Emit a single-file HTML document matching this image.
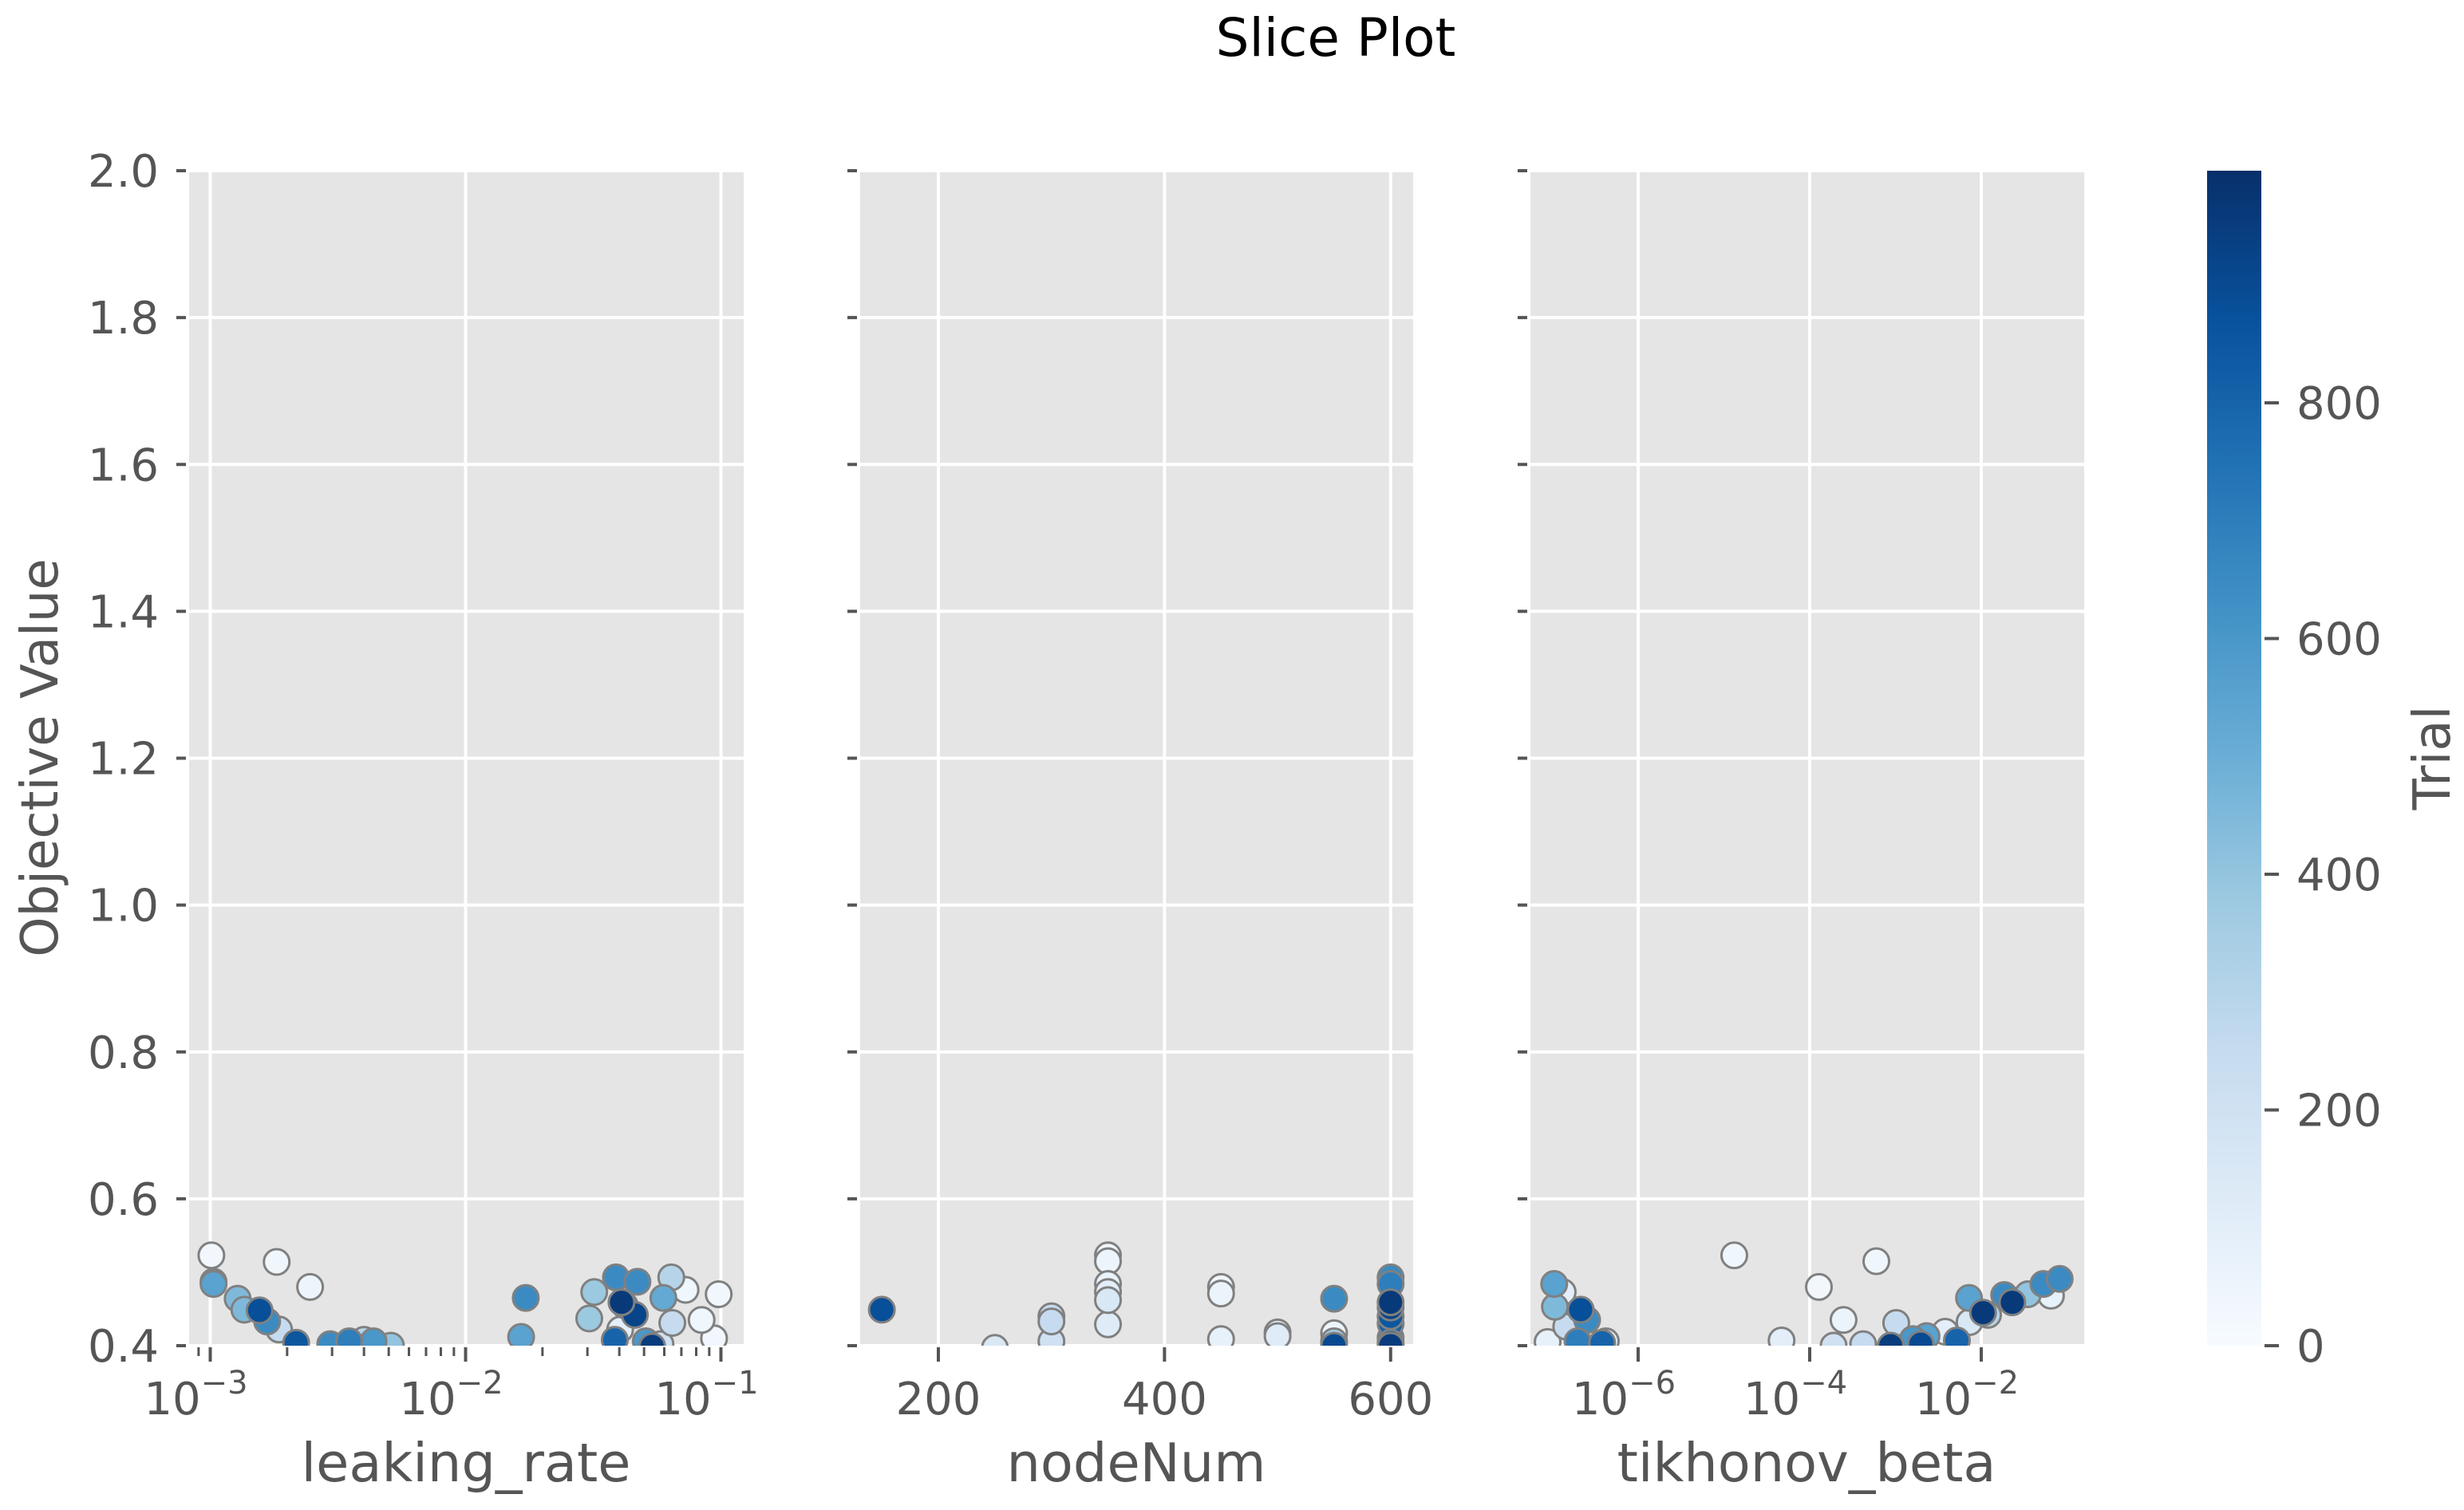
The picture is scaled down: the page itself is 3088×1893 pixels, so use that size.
<!DOCTYPE html>
<html><head><meta charset="utf-8"><title>Slice Plot</title>
<style>html,body{margin:0;padding:0;background:#fff}svg{display:block}text{font-family:"DejaVu Sans","Liberation Sans",sans-serif}</style>
</head><body>
<svg id="chart" xmlns="http://www.w3.org/2000/svg" width="3088" height="1893" viewBox="0 0 3088 1893">
<text x="1674" y="70" font-size="66" text-anchor="middle" fill="#000">Slice Plot</text>
<g id="layer"></g>
</svg>
<script>
// ---- data ----
const lrX = [1.01e-3,1.03e-3,1.03e-3,1.28e-3,1.36e-3,1.56e-3,1.67e-3,1.86e-3,1.82e-3,2.46e-3,2.17e-3,2.95e-3,3.5e-3,4.36e-3,5.1e-3,4.0e-3,0.0172,0.0165,0.0319,0.0305,0.0388,0.0471,0.0408,0.046,0.0384,0.0508,0.0538,0.0639,0.0727,0.0595,0.0645,0.098,0.084,0.094,0.0403,0.058,0.042];
const lrY = [0.523,0.487,0.484,0.464,0.449,0.448,0.433,0.422,0.514,0.48,0.404,0.402,0.406,0.406,0.40,0.408,0.465,0.412,0.473,0.437,0.493,0.487,0.459,0.442,0.408,0.406,0.399,0.493,0.476,0.465,0.431,0.47,0.435,0.41,0.422,0.402,0.455];
const lrT = [30,60,550,450,450,880,650,250,40,50,850,650,700,600,400,300,650,550,380,380,650,650,960,920,800,600,950,300,40,520,250,30,40,30,100,200,150];

const nnX = [150,250,300,300,300,350,350,350,350,350,350,450,450,450,500,500,550,550,550,550,600,600,600,600,600,600,600,600,600];
const nnY = [0.449,0.397,0.44,0.433,0.406,0.523,0.515,0.484,0.473,0.462,0.429,0.48,0.471,0.409,0.418,0.413,0.464,0.417,0.406,0.40,0.493,0.484,0.459,0.452,0.44,0.43,0.411,0.404,0.40];
const nnT = [880,150,250,250,200,30,50,60,100,150,120,40,60,80,100,120,650,50,350,900,650,700,960,930,850,800,700,850,950];

const tbX = [8.8e-8,1.05e-7,1.32e-7,1.07e-7,1.45e-7,2.14e-7,2.54e-7,1.97e-7,3.8e-7,4.2e-7,1.32e-5,4.7e-5,1.28e-4,5.98e-4,2.48e-4,1.02e-3,1.9e-4,4.2e-4,8.8e-4,1.6e-3,2.3e-3,1.97e-3,3.8e-3,5.2e-3,7.3e-3,7.2e-3,1.2e-2,1.05e-2,1.85e-2,2.3e-2,3.5e-2,6.5e-2,5.3e-2,8.2e-2];
const tbY = [0.405,0.484,0.473,0.453,0.426,0.449,0.435,0.406,0.404,0.406,0.523,0.407,0.48,0.515,0.435,0.431,0.40,0.402,0.40,0.409,0.413,0.402,0.419,0.407,0.432,0.465,0.442,0.445,0.469,0.459,0.47,0.468,0.484,0.491];
const tbT = [80,550,100,450,250,880,650,700,800,100,40,100,30,40,60,250,200,250,950,600,550,900,100,800,150,550,300,960,650,960,400,80,650,650];

const yTicks = [0.4,0.6,0.8,1.0,1.2,1.4,1.6,1.8,2.0];
const yTickLabels = ["0.4","0.6","0.8","1.0","1.2","1.4","1.6","1.8","2.0"];
const nnTicks = [200,400,600];
const lrExp = [-3,-2,-1];
const tbExp = [-6,-4,-2];
const cbTicks = [0,200,400,600,800];

// ---- layout / scales ----
const NS = "http://www.w3.org/2000/svg";
const layer = document.getElementById('layer');
const TOP = 214, BOT = 1687;
const Y_MIN = 0.4, Y_MAX = 2.0, T_MAX = 997;
const yS = v => BOT - (v - Y_MIN) / (Y_MAX - Y_MIN) * (BOT - TOP);
const panels = [
  {name:'leaking-rate', x0:237, x1:932, sc: v => 263.5 + (Math.log10(v) + 3) * 320, label:'leaking_rate', lx:584},
  {name:'node-num', x0:1078, x1:1771, sc: v => 1176 + (v - 200) * 1.417, label:'nodeNum', lx:1424},
  {name:'tikhonov-beta', x0:1918, x1:2612, sc: v => 2053 + (Math.log10(v) + 6) * 107.5, label:'tikhonov_beta', lx:2264}
];
const stops = ["#f7fbff","#deebf7","#c6dbef","#9ecae1","#6baed6","#4292c6","#2171b5","#08519c","#08306b"];
function hex(c){return [1,3,5].map(i=>parseInt(c.substr(i,2),16));}
function blues(t){
  t = Math.max(0, Math.min(1, t)) * (stops.length - 1);
  const i = Math.min(Math.floor(t), stops.length - 2), f = t - i;
  const a = hex(stops[i]), b = hex(stops[i+1]);
  return 'rgb(' + a.map((v,k)=>Math.round(v + (b[k]-v)*f)).join(',') + ')';
}
function el(tag, attrs, parent){
  const e = document.createElementNS(NS, tag);
  for (const k in attrs) e.setAttribute(k, attrs[k]);
  (parent || layer).appendChild(e);
  return e;
}

const defs = el('defs', {});
panels.forEach((p, pi) => {
  const cp = el('clipPath', {id:'clip' + pi}, defs);
  el('rect', {x:p.x0, y:TOP, width:p.x1-p.x0, height:BOT-TOP}, cp);

  const bg = el('rect', {x:p.x0, y:TOP, width:p.x1-p.x0, height:BOT-TOP, fill:'#e5e5e5'});
  
  

  yTicks.forEach((v, i) => {
    const y = yS(v);
    const g = el('line', {x1:p.x0, x2:p.x1, y1:y, y2:y, stroke:'#fff', 'stroke-width':4});
    
    
    const t = el('line', {x1:p.x0-16, x2:p.x0-4, y1:y, y2:y, stroke:'#555', 'stroke-width':4});
    
    
    if (pi === 0) {
      const tl = el('text', {x:p.x0-38, y:y+20, 'font-size':56, 'text-anchor':'end', fill:'#555'});
      tl.textContent = yTickLabels[i];
      
      
    }
  });

  let majors = [];
  if (pi === 0) majors = lrExp.map(e => ({v:Math.pow(10,e), e:e}));
  if (pi === 1) majors = nnTicks.map(v => ({v:v}));
  if (pi === 2) majors = tbExp.map(e => ({v:Math.pow(10,e), e:e}));
  majors.forEach(m => {
    const x = p.sc(m.v);
    const g = el('line', {x1:x, x2:x, y1:TOP, y2:BOT, stroke:'#fff', 'stroke-width':4});
    
    
    const t = el('line', {x1:x, x2:x, y1:BOT+2, y2:BOT+20, stroke:'#555', 'stroke-width':4});
    
    
    const tl = el('text', {x:x, y:1773, 'font-size':56, 'text-anchor':'middle', fill:'#555'});
    
    
    if (m.e !== undefined) {
      tl.setAttribute('x', x - 18);
      tl.appendChild(document.createTextNode('10'));
      const sup = el('tspan', {dy:-26, 'font-size':40}, tl);
      sup.textContent = '\u2212' + Math.abs(m.e);
    } else {
      tl.textContent = String(m.v);
    }
  });
  if (pi === 0) {
    const minors = [9e-4];
    for (let d = -3; d <= -2; d++) for (let k = 2; k <= 9; k++) minors.push(k * Math.pow(10, d));
    minors.forEach(v => {
      const x = p.sc(v);
      const t = el('line', {x1:x, x2:x, y1:BOT+2, y2:BOT+13, stroke:'#555', 'stroke-width':3});
      
      
    });
  }

  const xl = el('text', {x:p.lx, y:1857, 'font-size':67, 'text-anchor':'middle', fill:'#555'});
  xl.textContent = p.label;
  
  
});

const series = [[lrX,lrY,lrT],[nnX,nnY,nnT],[tbX,tbY,tbT]];
series.forEach((s, pi) => {
  const p = panels[pi];
  const g = el('g', {'clip-path':'url(#clip' + pi + ')'});
  
  
  const order = s[2].map((t,i)=>i).sort((a,b)=>s[2][a]-s[2][b]);
  order.forEach(i => {
    const c = el('circle', {cx:p.sc(s[0][i]), cy:yS(s[1][i]), r:16, fill:blues(s[2][i]/T_MAX), stroke:'#808080', 'stroke-width':3}, g);
    
    
  });
});

const yt = el('text', {x:0, y:0, 'font-size':64, 'text-anchor':'middle', fill:'#555', transform:'translate(72,950) rotate(-90)'});
yt.textContent = 'Objective Value';



const grad = el('linearGradient', {id:'cbg', x1:0, y1:1, x2:0, y2:0}, defs);
stops.forEach((c,i) => el('stop', {offset:(i/(stops.length-1)), 'stop-color':c}, grad));
const cb = el('rect', {x:2766, y:TOP, width:68, height:BOT-TOP, fill:'url(#cbg)'});


cbTicks.forEach(v => {
  const y = BOT - v / T_MAX * (BOT - TOP);
  const t = el('line', {x1:2838, x2:2856, y1:y, y2:y, stroke:'#555', 'stroke-width':4});
  
  
  const tl = el('text', {x:2878, y:y+20, 'font-size':56, fill:'#555'});
  tl.textContent = String(v);
  
  
});
const ct = el('text', {x:0, y:0, 'font-size':64, 'text-anchor':'middle', fill:'#555', transform:'translate(3070,950) rotate(-90)'});
ct.textContent = 'Trial';


</script>
</body></html>
